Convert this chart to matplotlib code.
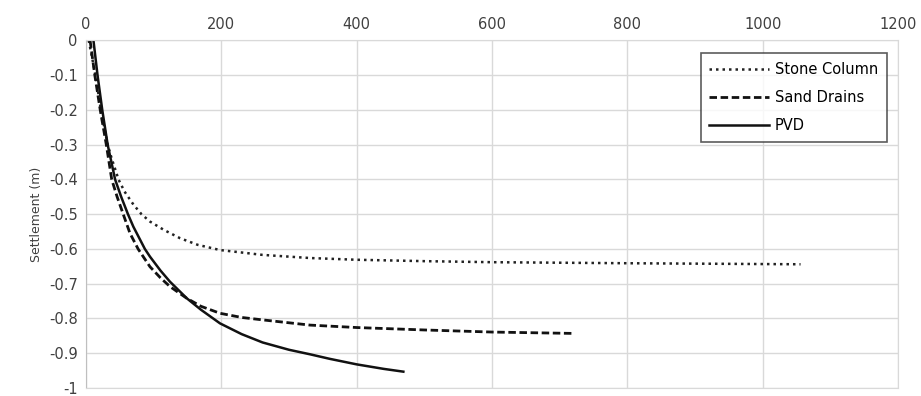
import matplotlib.pyplot as plt

# values
stone_x = [4, 14, 22, 32, 38, 48, 57, 70, 82, 94.5, 115, 139, 165, 198, 261, 331, 400, 500, 600, 800, 1056]
stone_y = [0, -0.1, -0.2, -0.3, -0.34, -0.4, -0.435, -0.472, -0.5, -0.521, -0.545, -0.569, -0.588, -0.603,
           -0.617, -0.626, -0.631, -0.635, -0.638, -0.641, -0.644]

sand_x = [6, 13, 21, 30, 38, 46, 55, 65, 77, 94.5, 110, 124, 149, 170, 198, 230, 261, 331, 400, 500, 600, 722]
sand_y = [0, -0.1, -0.2, -0.3, -0.4, -0.45, -0.5, -0.555, -0.6, -0.651, -0.683, -0.708, -0.742, -0.765, -0.785,
          -0.797, -0.804, -0.819, -0.826, -0.833, -0.839, -0.843]

pvd_x = [11, 17, 24, 32, 43, 52, 62, 70, 87, 94.5, 110, 124, 149, 170, 198, 230, 261, 300, 331, 360, 400, 440, 469]
pvd_y = [0, -0.1, -0.2, -0.3, -0.4, -0.45, -0.5, -0.536, -0.6, -0.622, -0.662, -0.694, -0.742, -0.775, -0.814,
         -0.845, -0.869, -0.89, -0.903, -0.916, -0.932, -0.945, -0.953]

fig = plt.figure(figsize=(9.21, 3.96), dpi=100)
ax = fig.add_axes([0.0934, 0.0202, 0.8816, 0.8776])

ax.plot(stone_x, stone_y, color='#222222', lw=1.8, linestyle=(0, (1, 1.6)), label='Stone Column')
ax.plot(sand_x, sand_y, color='#111111', lw=2.0, linestyle=(0, (2.7, 1.3)), label='Sand Drains')
ax.plot(pvd_x, pvd_y, color='#111111', lw=1.8, linestyle='-', label='PVD')

ax.set_xlim(0, 1200)
ax.set_ylim(-1, 0)
ax.set_xticks(range(0, 1201, 200))
ax.set_yticks([0, -0.1, -0.2, -0.3, -0.4, -0.5, -0.6, -0.7, -0.8, -0.9, -1])
ax.set_yticklabels(['0', '-0.1', '-0.2', '-0.3', '-0.4', '-0.5', '-0.6', '-0.7', '-0.8', '-0.9', '-1'])
ax.xaxis.tick_top()
ax.tick_params(length=0, labelsize=10.5, colors='#404040', pad=6)
ax.grid(color='#d9d9d9', lw=1)
ax.set_axisbelow(True)
for s in ax.spines.values():
    s.set_color('#d9d9d9')
ax.spines['left'].set_color('#bfbfbf')

ax.set_ylabel('Settlement (m)', fontsize=9, color='#404040', labelpad=4)

leg = ax.legend(loc='upper right', bbox_to_anchor=(0.9865, 0.964), fontsize=10.5, frameon=True,
                fancybox=False, handlelength=4.1, borderaxespad=0, borderpad=0.6,
                labelspacing=0.9, handletextpad=0.4)
leg.get_frame().set_edgecolor('#333333')
leg.get_frame().set_linewidth(1.2)

fig.savefig('out.png', dpi=100)
